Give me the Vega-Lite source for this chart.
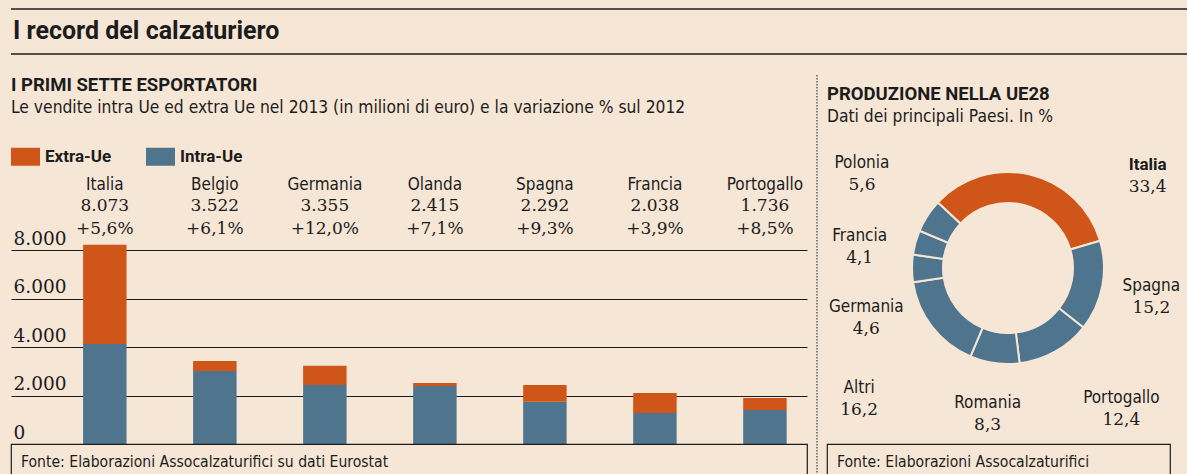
{
  "$schema": "https://vega.github.io/schema/vega-lite/v6.json",
  "background": "#F5E6D6",
  "padding": {"left": 10, "top": 8, "right": 0, "bottom": 0},
  "spacing": 19,
  "resolve": {"legend": {"color": "independent"}},
  "config": {
    "view": {"stroke": null},
    "locale": {"number": {"decimal": ",", "thousands": ".", "grouping": [3], "currency": ["€", ""]}},
    "title": {"anchor": "start", "frame": "group", "color": "#1c1c1c", "subtitleColor": "#1c1c1c", "font": "Roboto", "subtitleFont": "DejaVu Sans Condensed", "fontWeight": "bold", "subtitleFontWeight": "normal", "fontSize": 18.5, "subtitleFontSize": 17.3, "subtitlePadding": 4},
    "text": {"color": "#1c1c1c"}
  },
  "vconcat": [
    {
      "width": 1177,
      "height": 45,
      "data": {"values": [{"titolo": "I record del calzaturiero"}]},
      "title": {"text": "I record del calzaturiero", "fontSize": 25, "offset": -36, "dx": 2},
      "layer": [
        {"mark": {"type": "rule", "color": "#1c1c1c", "strokeWidth": 1.5}, "encoding": {"y": {"datum": 0, "type": "quantitative", "scale": {"domain": [0, 1]}, "axis": null}}},
        {"mark": {"type": "rule", "color": "#1c1c1c", "strokeWidth": 1.5}, "encoding": {"y": {"datum": 1, "type": "quantitative"}}}
      ]
    },
    {
      "spacing": 8,
      "resolve": {"legend": {"color": "independent"}},
      "hconcat": [
        {
          "bounds": "flush",
          "spacing": 0,
          "resolve": {"legend": {"color": "independent"}},
          "vconcat": [
            {"width": 796, "height": 99, "data": {"values": []}, "mark": "point"},
            {
              "width": 796,
              "height": 270,
              "title": {"text": "I PRIMI SETTE ESPORTATORI", "subtitle": "Le vendite intra Ue ed extra Ue nel 2013 (in milioni di euro) e la variazione % sul 2012", "offset": 26},
              "layer": [
                {
                  "data": {"values": [
                    {"paese": "Italia", "tipo": "Intra-Ue", "valore": 4130},
                    {"paese": "Italia", "tipo": "Extra-Ue", "valore": 4100},
                    {"paese": "Belgio", "tipo": "Intra-Ue", "valore": 3010},
                    {"paese": "Belgio", "tipo": "Extra-Ue", "valore": 420},
                    {"paese": "Germania", "tipo": "Intra-Ue", "valore": 2440},
                    {"paese": "Germania", "tipo": "Extra-Ue", "valore": 790},
                    {"paese": "Olanda", "tipo": "Intra-Ue", "valore": 2400},
                    {"paese": "Olanda", "tipo": "Extra-Ue", "valore": 120},
                    {"paese": "Spagna", "tipo": "Intra-Ue", "valore": 1740},
                    {"paese": "Spagna", "tipo": "Extra-Ue", "valore": 700},
                    {"paese": "Francia", "tipo": "Intra-Ue", "valore": 1280},
                    {"paese": "Francia", "tipo": "Extra-Ue", "valore": 830},
                    {"paese": "Portogallo", "tipo": "Intra-Ue", "valore": 1400},
                    {"paese": "Portogallo", "tipo": "Extra-Ue", "valore": 500}
                  ]},
                  "mark": {"type": "bar"},
                  "encoding": {
                    "x": {"field": "paese", "type": "nominal", "sort": null, "axis": null, "scale": {"paddingInner": 0.605, "paddingOuter": 0.42, "align": 0.78}},
                    "y": {"field": "valore", "type": "quantitative", "stack": "zero", "scale": {"domain": [0, 11150], "nice": false},
                      "axis": {"values": [0, 2000, 4000, 6000, 8000], "format": ",d", "title": null, "domain": false, "ticks": false, "tickSize": 0, "grid": true, "gridColor": "#1c1c1c", "gridWidth": 1.2, "gridOpacity": 1, "labelAlign": "left", "labelBaseline": "bottom", "labelPadding": -2, "labelOffset": -2, "labelFont": "DejaVu Serif", "labelFontSize": 18.5, "labelColor": "#1c1c1c"}},
                    "color": {"field": "tipo", "type": "nominal", "scale": {"domain": ["Extra-Ue", "Intra-Ue"], "range": ["#CF5519", "#4E758D"]},
                      "legend": {"title": null, "orient": "top", "direction": "horizontal", "offset": 8, "padding": 0, "symbolType": "M-1,-0.62H1V0.62H-1Z", "symbolSize": 841, "symbolStrokeWidth": 0, "symbolOpacity": 1, "labelFont": "Roboto", "labelFontSize": 17, "labelFontWeight": "bold", "labelColor": "#1c1c1c", "labelOffset": 5, "columnPadding": 34}},
                    "order": {"field": "tipo", "sort": "descending"}
                  }
                },
                {
                  "data": {"values": [
                    {"paese": "Italia", "totale": 8073, "variazione": 0.056},
                    {"paese": "Belgio", "totale": 3522, "variazione": 0.061},
                    {"paese": "Germania", "totale": 3355, "variazione": 0.12},
                    {"paese": "Olanda", "totale": 2415, "variazione": 0.071},
                    {"paese": "Spagna", "totale": 2292, "variazione": 0.093},
                    {"paese": "Francia", "totale": 2038, "variazione": 0.039},
                    {"paese": "Portogallo", "totale": 1736, "variazione": 0.085}
                  ]},
                  "layer": [
                    {"mark": {"type": "text", "font": "DejaVu Sans Condensed", "fontSize": 17, "dy": -21, "baseline": "middle"},
                      "encoding": {"x": {"field": "paese", "type": "nominal", "sort": null}, "y": {"datum": 9849}, "text": {"field": "paese"}}},
                    {"mark": {"type": "text", "font": "DejaVu Serif", "fontSize": 17, "baseline": "middle"},
                      "encoding": {"x": {"field": "paese", "type": "nominal", "sort": null}, "y": {"datum": 9849}, "text": {"field": "totale", "format": ",d"}}},
                    {"mark": {"type": "text", "font": "DejaVu Serif", "fontSize": 17, "dy": 23, "baseline": "middle"},
                      "encoding": {"x": {"field": "paese", "type": "nominal", "sort": null}, "y": {"datum": 9849}, "text": {"field": "variazione", "format": "+.1%"}}}
                  ]
                }
              ]
            },
            {"width": 796, "height": 40, "data": {"values": []}, "mark": "point", "view": {"stroke": "#1c1c1c", "strokeWidth": 1.2},
              "title": {"text": "Fonte: Elaborazioni Assocalzaturifici su dati Eurostat", "font": "DejaVu Sans Condensed", "fontSize": 15.6, "fontWeight": "normal", "offset": -27, "dx": 10}}
          ]
        },
        {
          "width": 1,
          "height": 401,
          "data": {"values": [{"divisore": 0}]},
          "mark": {"type": "rule", "color": "#555555", "strokeDash": [1.5, 1.5], "strokeWidth": 1.4},
          "encoding": {"x": {"field": "divisore", "type": "quantitative", "scale": {"domain": [0, 1]}, "axis": null}}
        },
        {
          "bounds": "flush",
          "spacing": 0,
          "vconcat": [
            {"width": 343, "height": 17, "data": {"values": []}, "mark": "point"},
            {
              "width": 362,
              "height": 352,
              "title": {"text": "PRODUZIONE NELLA UE28", "subtitle": "Dati dei principali Paesi. In %", "offset": -33},
              "data": {"values": [
                {"paese": "Italia", "quota": 33.4, "ordine": 1},
                {"paese": "Spagna", "quota": 15.2, "ordine": 2},
                {"paese": "Portogallo", "quota": 12.4, "ordine": 3},
                {"paese": "Romania", "quota": 8.3, "ordine": 4},
                {"paese": "Altri", "quota": 16.2, "ordine": 5},
                {"paese": "Germania", "quota": 4.6, "ordine": 6},
                {"paese": "Francia", "quota": 4.1, "ordine": 7},
                {"paese": "Polonia", "quota": 5.6, "ordine": 8}
              ]},
              "transform": [
                {"stack": "quota", "groupby": [], "sort": [{"field": "ordine", "order": "ascending"}], "as": ["q0", "q1"]},
                {"calculate": "(datum.q0 + datum.q1) / 2", "as": "qm"}
              ],
              "layer": [
                {"mark": {"type": "arc", "innerRadius": 65, "outerRadius": 96, "stroke": "#F5E6D6", "strokeWidth": 2},
                  "encoding": {
                    "theta": {"field": "q0", "type": "quantitative", "scale": {"domain": [0, 99.8], "range": [-0.82, 5.4632]}},
                    "theta2": {"field": "q1"},
                    "color": {"condition": {"test": "datum.paese === 'Italia'", "value": "#CF5519"}, "value": "#4E758D"}}},
                {"transform": [{"filter": "indexof(['Spagna', 'Romania'], datum.paese) >= 0"}],
                  "layer": [
                    {"mark": {"type": "text", "radius": 146, "dy": -10, "font": "DejaVu Sans Condensed", "fontSize": 17},
                      "encoding": {"theta": {"field": "qm", "type": "quantitative"}, "text": {"field": "paese"}}},
                    {"mark": {"type": "text", "radius": 146, "dy": 12, "font": "DejaVu Serif", "fontSize": 17},
                      "encoding": {"theta": {"field": "qm", "type": "quantitative"}, "text": {"field": "quota", "format": ".1f"}}}
                  ]},
                {"transform": [{"filter": "datum.paese === 'Francia'"}],
                  "layer": [
                    {"mark": {"type": "text", "radius": 150, "thetaOffset": -0.12, "dy": -10, "font": "DejaVu Sans Condensed", "fontSize": 17},
                      "encoding": {"theta": {"field": "qm", "type": "quantitative"}, "text": {"field": "paese"}}},
                    {"mark": {"type": "text", "radius": 150, "thetaOffset": -0.12, "dy": 12, "font": "DejaVu Serif", "fontSize": 17},
                      "encoding": {"theta": {"field": "qm", "type": "quantitative"}, "text": {"field": "quota", "format": ".1f"}}}
                  ]},
                {"transform": [{"filter": "datum.paese === 'Polonia'"}],
                  "layer": [
                    {"mark": {"type": "text", "radius": 174, "dy": -10, "font": "DejaVu Sans Condensed", "fontSize": 17},
                      "encoding": {"theta": {"field": "qm", "type": "quantitative"}, "text": {"field": "paese"}}},
                    {"mark": {"type": "text", "radius": 174, "dy": 12, "font": "DejaVu Serif", "fontSize": 17},
                      "encoding": {"theta": {"field": "qm", "type": "quantitative"}, "text": {"field": "quota", "format": ".1f"}}}
                  ]},
                {"transform": [{"filter": "datum.paese === 'Germania'"}],
                  "layer": [
                    {"mark": {"type": "text", "radius": 150, "thetaOffset": -0.33, "dy": -10, "font": "DejaVu Sans Condensed", "fontSize": 17},
                      "encoding": {"theta": {"field": "qm", "type": "quantitative"}, "text": {"field": "paese"}}},
                    {"mark": {"type": "text", "radius": 150, "thetaOffset": -0.33, "dy": 12, "font": "DejaVu Serif", "fontSize": 17},
                      "encoding": {"theta": {"field": "qm", "type": "quantitative"}, "text": {"field": "quota", "format": ".1f"}}}
                  ]},
                {"transform": [{"filter": "datum.paese === 'Altri'"}],
                  "layer": [
                    {"mark": {"type": "text", "radius": 198, "thetaOffset": -0.06, "dy": -10, "font": "DejaVu Sans Condensed", "fontSize": 17},
                      "encoding": {"theta": {"field": "qm", "type": "quantitative"}, "text": {"field": "paese"}}},
                    {"mark": {"type": "text", "radius": 198, "thetaOffset": -0.06, "dy": 12, "font": "DejaVu Serif", "fontSize": 17},
                      "encoding": {"theta": {"field": "qm", "type": "quantitative"}, "text": {"field": "quota", "format": ".1f"}}}
                  ]},
                {"transform": [{"filter": "datum.paese === 'Portogallo'"}],
                  "layer": [
                    {"mark": {"type": "text", "radius": 180, "thetaOffset": -0.17, "dy": -10, "font": "DejaVu Sans Condensed", "fontSize": 17},
                      "encoding": {"theta": {"field": "qm", "type": "quantitative"}, "text": {"field": "paese"}}},
                    {"mark": {"type": "text", "radius": 180, "thetaOffset": -0.17, "dy": 12, "font": "DejaVu Serif", "fontSize": 17},
                      "encoding": {"theta": {"field": "qm", "type": "quantitative"}, "text": {"field": "quota", "format": ".1f"}}}
                  ]},
                {"transform": [{"filter": "datum.paese === 'Italia'"}],
                  "layer": [
                    {"mark": {"type": "text", "radius": 168, "thetaOffset": 0.75, "dy": -10, "font": "Roboto", "fontSize": 17, "fontWeight": "bold"},
                      "encoding": {"theta": {"field": "qm", "type": "quantitative"}, "text": {"field": "paese"}}},
                    {"mark": {"type": "text", "radius": 168, "thetaOffset": 0.75, "dy": 12, "font": "DejaVu Serif", "fontSize": 17},
                      "encoding": {"theta": {"field": "qm", "type": "quantitative"}, "text": {"field": "quota", "format": ".1f"}}}
                  ]}
              ]
            },
            {"width": 343, "height": 40, "data": {"values": []}, "mark": "point", "view": {"stroke": "#1c1c1c", "strokeWidth": 1.2},
              "title": {"text": "Fonte: Elaborazioni Assocalzaturifici", "font": "DejaVu Sans Condensed", "fontSize": 15.6, "fontWeight": "normal", "offset": -27, "dx": 10}}
          ]
        }
      ]
    }
  ]
}
